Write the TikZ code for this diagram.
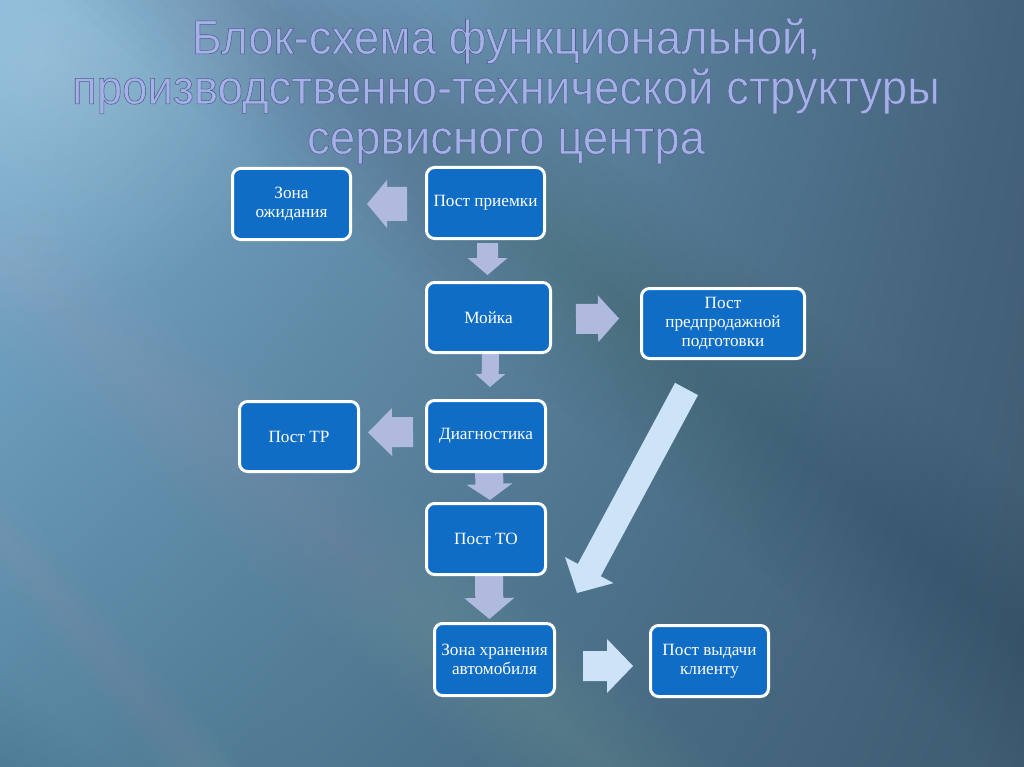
\documentclass[tikz,border=0pt]{standalone}
\usepackage{fontspec}
\setmainfont{Liberation Serif}
\newfontfamily\titlefont[FakeStretch=0.95]{Liberation Sans}
\usetikzlibrary{calc,shadings,fadings}
\pgfdeclarelayer{backdrop}
\pgfdeclarelayer{links}
\pgfsetlayers{backdrop,links,main}
\tikzfading[name=glowfade, inner color=transparent!0, outer color=transparent!100]
\definecolor{boxblue}{HTML}{0F6DC6}
\definecolor{arrlav}{HTML}{B0B9DE}
\definecolor{arrlight}{HTML}{CCE3F8}
\definecolor{titlecol}{HTML}{A4B1E8}
\definecolor{bgUL}{HTML}{80B4D6}
\definecolor{bgUR}{HTML}{44627A}
\definecolor{bgLL}{HTML}{56849F}
\definecolor{bgLR}{HTML}{3E5B71}
\tikzset{
  stagebox/.style={draw=white, line width=3pt, rounded corners=8pt, fill=boxblue,
    text=white, align=center, inner sep=2pt,
    font=\fontsize{17.2}{18.6}\selectfont},
  titletext/.style={text=titlecol, align=center,
    font=\titlefont\fontsize{48}{50}\selectfont}
}
% block arrow: tail, tip, half shaft, half head, head length, colour
\newcommand{\blockarrow}[6]{%
  \coordinate (bT) at #1;
  \coordinate (bP) at #2;
  \coordinate (bH) at ($(bP)!#5!(bT)$);
  \fill[#6] ($(bT)!#3!90:(bP)$) -- ($(bH)!#3!-90:(bT)$) -- ($(bH)!#4!-90:(bT)$) -- (bP)
    -- ($(bH)!#4!90:(bT)$) -- ($(bH)!#3!90:(bT)$) -- ($(bT)!#3!-90:(bP)$) -- cycle;
}
% soft diagonal band: x1,y1,x2,y2 of centre line, half thickness, colour, total opacity
\newcommand{\softband}[7]{%
  \foreach \k in {1,...,10}{%
    \fill[#6, opacity=#7/10] (#1,#2-\k*#5/10) -- (#3,#4-\k*#5/10) -- (#3,#4+\k*#5/10) -- (#1,#2+\k*#5/10) -- cycle;
  }%
}
\newcommand{\outlineon}{\special{pdf:literal direct 2 Tr 0.55 w 0.32 0.37 0.55 RG}}
\newcommand{\outlineoff}{\special{pdf:literal direct 0 Tr}}
\begin{document}
\begin{tikzpicture}[x=1pt,y=-1pt]
\useasboundingbox (0,0) rectangle (1024,767);
% background
\begin{pgfonlayer}{backdrop}
\shade[upper left=bgUL, upper right=bgUR, lower left=bgLL, lower right=bgLR]
  (0,0) rectangle (1024,767);
\begin{scope}
\clip (0,0) rectangle (1024,767);
\fill[white, opacity=0.20, path fading=glowfade] (40,60) circle (260);
\softband{-300}{-448}{1200}{782}{150}{black}{0.07}
\softband{-200}{90}{800}{930}{100}{white}{0.09}
\softband{-200}{300}{400}{1000}{50}{white}{0.07}
\softband{-200}{320}{400}{800}{40}{white}{0.05}
\softband{-200}{620}{600}{1300}{120}{black}{0.05}
\end{scope}
\end{pgfonlayer}
% title
\node[titletext] (title) at (506,91)
  {\outlineon Блок-схема функциональной,\\\outlineon производственно-технической структуры\\\outlineon сервисного центра\outlineoff};
% boxes
\node[stagebox, minimum width=118pt, minimum height=71pt] (wait) at (291.5,204) {Зона\\ожидания};
\node[stagebox, minimum width=118pt, minimum height=71pt] (recv) at (485.5,203) {Пост приемки};
\node[stagebox, minimum width=124pt, minimum height=70pt] (wash) at (488.5,317.5) {Мойка};
\node[stagebox, minimum width=163pt, minimum height=70pt] (presale) at (723,323.5) {Пост\\предпродажной\\подготовки};
\node[stagebox, minimum width=119pt, minimum height=70pt] (tr) at (299,436.5) {Пост ТР};
\node[stagebox, minimum width=119pt, minimum height=71pt] (diag) at (486,436) {Диагностика};
\node[stagebox, minimum width=119pt, minimum height=71pt] (to) at (486,539) {Пост ТО};
\node[stagebox, minimum width=120pt, minimum height=72pt] (store) at (494.5,659.5) {Зона хранения\\автомобиля};
\node[stagebox, minimum width=118pt, minimum height=71pt] (issue) at (709.5,661) {Пост выдачи\\клиенту};
% connectors (behind the boxes)
\begin{pgfonlayer}{links}
\blockarrow{($(recv.west)+(-18,1)$)}{($(wait.east)+(15,0)$)}{17pt}{24pt}{20pt}{arrlav}
\blockarrow{($(recv.south)+(2,3)$)}{($(wash.north)+(-1,-6)$)}{10.5pt}{20pt}{17pt}{arrlav}
\blockarrow{($(wash.east)+(24,1.5)$)}{($(presale.west)+(-21,-5)$)}{15pt}{23.5pt}{21pt}{arrlav}
\blockarrow{($(wash.south)+(2,-2)$)}{($(diag.north)+(4,-12)$)}{8.5pt}{15pt}{13pt}{arrlav}
\blockarrow{($(diag.west)+(-12,-4)$)}{($(tr.east)+(8,-4)$)}{15pt}{24pt}{24pt}{arrlav}
\blockarrow{($(diag.south)+(3,-2)$)}{($(to.north)+(4,-2)$)}{14pt}{23pt}{16pt}{arrlav}
\blockarrow{($(to.south)+(3,-2)$)}{($(store.north)+(-5,-3)$)}{14pt}{25pt}{21pt}{arrlav}
\blockarrow{($(store.east)+(27,6.5)$)}{($(issue.west)+(-16,5)$)}{15pt}{27pt}{26pt}{arrlight}
\blockarrow{($(presale.south)+(-36.5,29)$)}{($(store.north east)+(21,-29)$)}{13pt}{27.5pt}{26pt}{arrlight}
\end{pgfonlayer}
\end{tikzpicture}
\end{document}
